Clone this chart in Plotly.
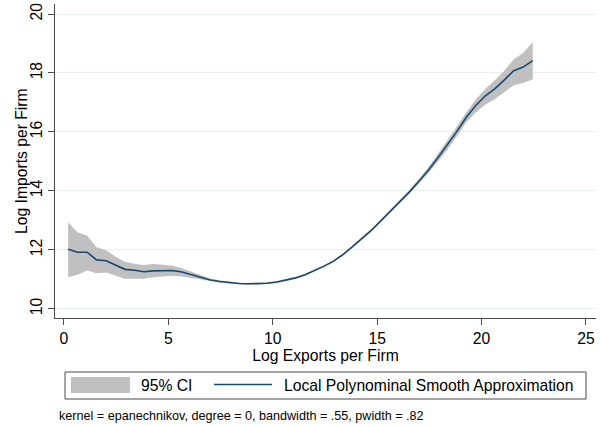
import plotly.graph_objects as go

# ---- data ----
log_exports = [0.20, 0.65, 1.11, 1.56, 2.02, 2.47, 2.92, 3.38, 3.83, 4.28,
               4.74, 5.19, 5.65, 6.10, 6.55, 7.01, 7.46, 7.92, 8.37, 8.82,
               9.28, 9.73, 10.19, 10.64, 11.09, 11.55, 12.00, 12.46, 12.91, 13.36,
               13.82, 14.27, 14.73, 15.18, 15.63, 16.09, 16.54, 17.00, 17.45, 17.90,
               18.36, 18.81, 19.27, 19.72, 20.17, 20.63, 21.08, 21.54, 21.99, 22.45]

smooth = [12.02, 11.92, 11.92, 11.66, 11.63, 11.48, 11.34, 11.31, 11.26, 11.29,
          11.30, 11.30, 11.25, 11.16, 11.07, 10.98, 10.93, 10.89, 10.86, 10.85,
          10.85, 10.87, 10.91, 10.97, 11.05, 11.16, 11.30, 11.45, 11.62, 11.84,
          12.11, 12.38, 12.67, 12.99, 13.31, 13.64, 13.96, 14.33, 14.70, 15.12,
          15.55, 16.01, 16.50, 16.90, 17.22, 17.46, 17.76, 18.08, 18.20, 18.42]

ci_upper = [12.94, 12.60, 12.48, 12.09, 11.99, 11.77, 11.60, 11.53, 11.49, 11.52,
            11.50, 11.46, 11.38, 11.26, 11.14, 11.03, 10.97, 10.92, 10.89, 10.88,
            10.88, 10.90, 10.94, 11.00, 11.08, 11.19, 11.33, 11.48, 11.65, 11.88,
            12.15, 12.42, 12.71, 13.04, 13.36, 13.70, 14.03, 14.41, 14.80, 15.25,
            15.70, 16.18, 16.67, 17.10, 17.46, 17.75, 18.07, 18.47, 18.68, 19.05]

ci_lower = [11.07, 11.16, 11.30, 11.21, 11.23, 11.13, 11.02, 11.02, 11.02, 11.07,
            11.09, 11.12, 11.10, 11.05, 10.99, 10.93, 10.89, 10.86, 10.83, 10.82,
            10.82, 10.84, 10.88, 10.94, 11.02, 11.13, 11.27, 11.42, 11.59, 11.80,
            12.07, 12.34, 12.63, 12.94, 13.26, 13.58, 13.89, 14.25, 14.60, 14.99,
            15.40, 15.85, 16.33, 16.66, 16.92, 17.11, 17.33, 17.58, 17.66, 17.79]

x_ticks = [0, 5, 10, 15, 20, 25]
y_ticks = [10, 12, 14, 16, 18, 20]

legend_labels = ["95% CI", "Local Polynominal Smooth Approximation"]
note_text = "kernel = epanechnikov, degree = 0, bandwidth = .55, pwidth = .82"

# ---- style ----
FONT = "Liberation Sans, Arial, sans-serif"
NAVY = "#1a476f"
CI_GRAY = "#c0c0c0"
W, H = 601, 426
L, R, T, B = 55, 5, 4, 108
PW, PH = W - L - R, H - T - B


def px(xp):
    return (xp - L) / PW


def py(yp):
    return (H - B - yp) / PH


fig = go.Figure()
fig.add_trace(go.Scatter(x=log_exports, y=ci_upper, mode="lines",
                         line=dict(width=0, color=CI_GRAY), showlegend=False,
                         hoverinfo="skip"))
fig.add_trace(go.Scatter(x=log_exports, y=ci_lower, mode="lines",
                         line=dict(width=0, color=CI_GRAY), fill="tonexty",
                         fillcolor=CI_GRAY, name=legend_labels[0], showlegend=False))
fig.add_trace(go.Scatter(x=log_exports, y=smooth, mode="lines",
                         line=dict(width=1.6, color=NAVY),
                         name=legend_labels[1], showlegend=False))

fig.update_layout(
    width=W, height=H,
    margin=dict(l=L, r=R, t=T, b=B, pad=0, autoexpand=False),
    paper_bgcolor="white", plot_bgcolor="white",
    font=dict(family=FONT, size=15.7, color="#000000"),
    xaxis=dict(range=[-0.43, 25.48], tickvals=x_ticks, showgrid=False,
               zeroline=False, showline=True, linecolor="#4a4a4a", linewidth=1,
               ticks="outside", ticklen=6, tickcolor="#4a4a4a",
               tickfont=dict(size=15.7), automargin=False,
               ticklabeloverflow="allow",
               title=dict(text="Log Exports per Firm", font=dict(size=15.7), standoff=2)),
    yaxis=dict(range=[9.69, 20.34], tickvals=y_ticks, showgrid=True,
               gridcolor="#e6eef0", gridwidth=1, zeroline=False,
               showline=True, linecolor="#4a4a4a", linewidth=1,
               ticks="outside", ticklen=6, tickcolor="#4a4a4a",
               tickangle=-90, tickfont=dict(size=15.7), automargin=False,
               ticklabeloverflow="allow"),
    showlegend=False,
)

# y-axis title
fig.add_annotation(xref="paper", yref="paper", x=px(21), y=0.5,
                   text="Log Imports per Firm", textangle=-90, showarrow=False,
                   xanchor="center", yanchor="middle", font=dict(size=15.7))

# manual legend box (Stata style)
fig.add_shape(type="rect", xref="paper", yref="paper",
              x0=px(65), x1=px(586), y0=py(399), y1=py(372),
              line=dict(color="#4a4a4a", width=1), fillcolor="white")
fig.add_shape(type="rect", xref="paper", yref="paper",
              x0=px(71), x1=px(130), y0=py(393), y1=py(377),
              line=dict(width=0), fillcolor=CI_GRAY)
fig.add_shape(type="line", xref="paper", yref="paper",
              x0=px(214), x1=px(272), y0=py(384.5), y1=py(384.5),
              line=dict(color=NAVY, width=1.6))
fig.add_annotation(xref="paper", yref="paper", x=px(139), y=py(385.5),
                   text=legend_labels[0], showarrow=False, xanchor="left",
                   yanchor="middle", font=dict(size=15.7))
fig.add_annotation(xref="paper", yref="paper", x=px(282), y=py(385.5),
                   text=legend_labels[1], showarrow=False, xanchor="left",
                   yanchor="middle", font=dict(size=15.7))
fig.add_annotation(xref="paper", yref="paper", x=px(57), y=py(416),
                   text=note_text, showarrow=False, xanchor="left",
                   yanchor="middle", font=dict(size=12.6))

fig.write_html("out.html",
               config={"displayModeBar": False},
               post_script="document.body.style.margin='0px';"
                           "document.body.style.overflow='hidden';")
